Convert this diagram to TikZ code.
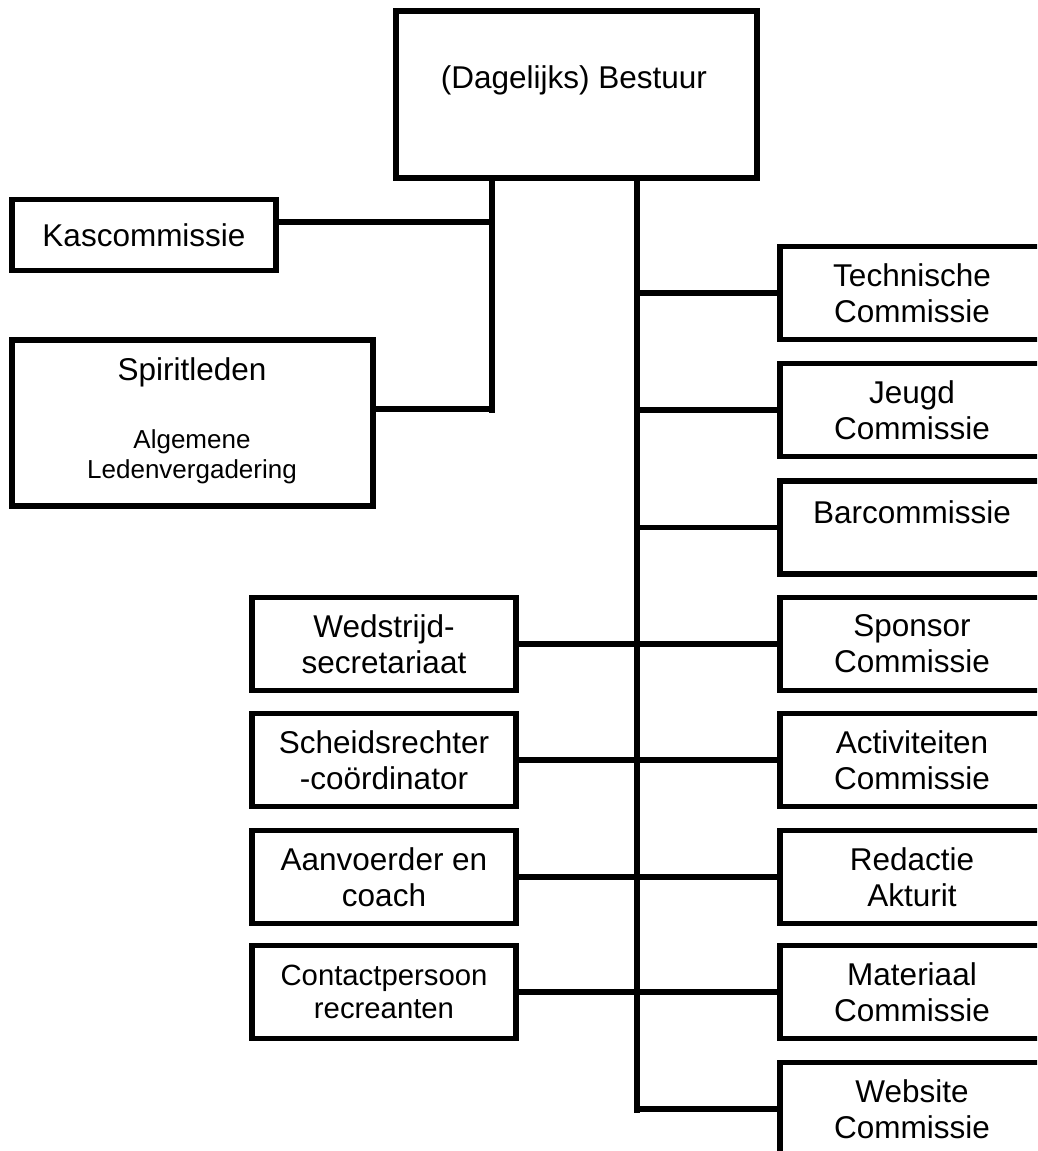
\documentclass[tikz,border=0pt]{standalone}
\usepackage{fontspec}
\setmainfont{Liberation Sans}
\usepackage{tikz}
\usetikzlibrary{positioning}
\usetikzlibrary{calc}
\newcommand{\orgfont}{\fontsize{31.5}{36}\selectfont}
\newcommand{\orgsmall}{\fontsize{29.3}{33}\selectfont}
\newcommand{\orgtiny}{\fontsize{26}{30}\selectfont}
\tikzstyle{unit}=[rectangle,draw,line width=5.5pt,inner sep=0pt,align=center,font=\orgfont]
\tikzstyle{commissie}=[unit,minimum width=264pt,minimum height=93pt]
\tikzstyle{link}=[draw,line width=5.5pt]
\tikzset{txt/.style={align=center,inner sep=0pt}}

\begin{document}
\begin{tikzpicture}[x=1pt,y=-1pt]

  \useasboundingbox (0,0) rectangle (1037,1151);
  \clip (0,0) rectangle (1037,1151);

  \node[unit,minimum width=361pt,minimum height=167pt] (bestuur) at (576.5,94.5) {};
  \node[txt,font=\orgfont] (bestuurtxt) at (574,80) {(Dagelijks) Bestuur};

  \node[unit,minimum width=264pt,minimum height=71pt] (kas) at (144,235) {Kascommissie};
  \node[unit,minimum width=361pt,minimum height=166pt] (spirit) at (192.5,423) {};
  \node[txt,font=\orgfont] (spirittxt) at (192,372) {Spiritleden};
  \node[txt,font=\orgtiny] (alv) at (192,457) {Algemene\\Ledenvergadering};

  \foreach \y/\name/\label in {293/tech/{Technische\\Commissie}, 410/jeugd/{Jeugd\\Commissie}, 644/sponsor/{Sponsor\\Commissie}, 760/activ/{Activiteiten\\Commissie}, 877/redactie/{Redactie\\Akturit}, 992/materiaal/{Materiaal\\Commissie}, 1109/website/{Website\\Commissie}}
          \node[commissie] (\name) at (912,\y) {\label};
  \node[commissie] (bar) at (912,527.5) {};
  \node[txt,font=\orgfont] (bartxt) at (912,512) {Barcommissie};

  \foreach \y/\name/\label in {644/wedstrijd/{Wedstrijd-\\secretariaat}, 760/scheids/{Scheidsrechter\\-coördinator}, 877/aanvoerder/{Aanvoerder en\\coach}}
          \node[commissie] (\name) at (384,\y) {\label};
  \node[commissie,font=\orgsmall] (contact) at (384,992) {Contactpersoon\\recreanten};

  \coordinate (endA) at (492,413);
  \coordinate (endB) at (637,1113);
  \path[link] (bestuur.south -| endA) -- (endA);
  \path[link] (bestuur.south -| endB) -- (endB);

  \path[link] ([yshift=13pt]kas.east) -- ([yshift=13pt]kas.east -| endA);
  \path[link] ([yshift=14pt]spirit.east) -- ([yshift=14pt]spirit.east -| endA);

  \foreach \name in {tech,jeugd,bar,website}
         \path[link] (\name.west -| endB) -- (\name.west);

  \foreach \source/\dest in {wedstrijd/sponsor, scheids/activ, aanvoerder/redactie, contact/materiaal}
         \path[link] (\source) -- (\dest);

\end{tikzpicture}
\end{document}
